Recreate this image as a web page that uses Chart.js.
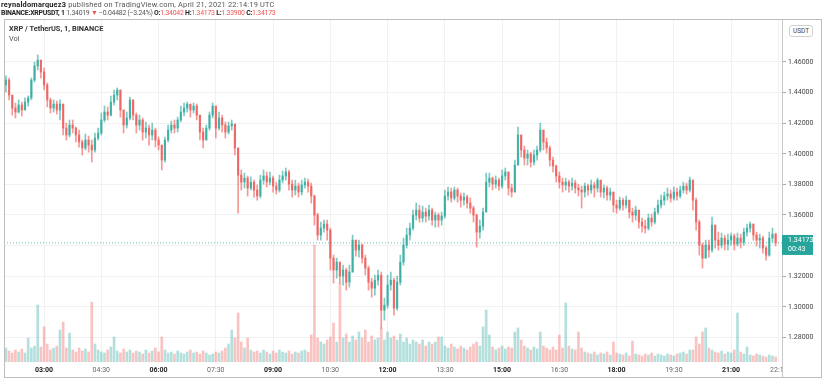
<!DOCTYPE html>
<html><head><meta charset="utf-8">
<script src="https://cdn.jsdelivr.net/npm/chart.js@4.4.1/dist/chart.umd.min.js"></script>
<style>
html,body{margin:0;padding:0;background:#fff;}
#wrap{position:relative;width:823px;height:383px;overflow:hidden;font-family:Roboto,"Open Sans",sans-serif;}
#c{position:absolute;left:0;top:0;}
.hdr{position:absolute;left:1px;white-space:nowrap;font-size:7.4px;line-height:9px;color:#555;}
.hdr b{color:#222;}
.red{color:#ef5350;}
.leg{position:absolute;left:9px;white-space:nowrap;font-size:7.4px;line-height:9px;color:#333;}
#usdt{position:absolute;left:789px;top:25px;width:22px;height:10px;border:1px solid #d0d0d0;border-radius:3px;font-size:6.5px;line-height:10px;text-align:center;color:#444;background:#fff;}
</style></head>
<body><div id="wrap">
<canvas id="c" width="823" height="383"></canvas>
<div class="hdr" style="top:0px;letter-spacing:0.2px;"><b>reynaldomarquez3</b> published on TradingView.com, April 21, 2021 22:14:19 UTC</div>
<div class="hdr" style="top:9px;font-size:6.9px;letter-spacing:-0.25px;"><b>BINANCE:XRPUSDT, 1</b> 1.34019 <span class="red">▼</span> −0.04482 (−3.24%) <b>O:</b><span class="red">1.34042</span> <b>H:</b><span class="red">1.34173</span> <b>L:</b><span class="red">1.33900</span> <b>C:</b><span class="red">1.34173</span></div>
<div class="leg" style="top:24px;font-weight:bold;">XRP / TetherUS, 1, BINANCE</div>
<div class="leg" style="top:34px;color:#555;">Vol</div>
<div id="usdt">USDT</div>
</div>
<script>
// 5-minute aggregated candles, first candle at 02:00 (minute 120 of the day)
const startMinute = 120;
const stepMinutes = 5;

const open = [1.4450,1.4482,1.4384,1.4299,1.4273,1.4319,1.4286,1.4338,1.4365,1.4482,
1.4574,1.4613,1.4535,1.4450,1.4352,1.4299,1.4325,1.4286,1.4325,1.4168,
1.4123,1.4188,1.4168,1.4123,1.4077,1.4038,1.4090,1.4057,1.4025,1.4103,
1.4136,1.4221,1.4273,1.4253,1.4338,1.4384,1.4417,1.4286,1.4188,1.4234,
1.4352,1.4253,1.4188,1.4221,1.4142,1.4168,1.4123,1.4155,1.4090,1.4057,
1.3959,1.4090,1.4155,1.4188,1.4168,1.4221,1.4273,1.4299,1.4325,1.4286,
1.4312,1.4253,1.4142,1.4090,1.4168,1.4253,1.4312,1.4168,1.4234,1.4188,
1.4142,1.4182,1.4195,1.4038,1.3861,1.3815,1.3841,1.3776,1.3815,1.3763,
1.3724,1.3828,1.3855,1.3815,1.3841,1.3789,1.3763,1.3828,1.3855,1.3881,
1.3802,1.3763,1.3789,1.3750,1.3796,1.3815,1.3789,1.3724,1.3599,1.3469,
1.3514,1.3541,1.3501,1.3318,1.3240,1.3292,1.3201,1.3240,1.3161,1.3227,
1.3436,1.3371,1.3403,1.3318,1.3253,1.3161,1.3122,1.3174,1.3207,1.2978,
1.3011,1.3142,1.3174,1.2991,1.3161,1.3292,1.3403,1.3469,1.3514,1.3599,
1.3632,1.3580,1.3619,1.3593,1.3632,1.3567,1.3599,1.3567,1.3593,1.3724,
1.3750,1.3711,1.3763,1.3724,1.3697,1.3717,1.3678,1.3645,1.3599,1.3488,
1.3527,1.3619,1.3815,1.3841,1.3802,1.3828,1.3789,1.3855,1.3881,1.3776,
1.3750,1.3926,1.4123,1.4025,1.3972,1.3998,1.3946,1.3992,1.4025,1.4155,
1.4077,1.4038,1.3959,1.3920,1.3855,1.3815,1.3796,1.3815,1.3789,1.3809,
1.3776,1.3763,1.3750,1.3789,1.3763,1.3796,1.3776,1.3828,1.3750,1.3776,
1.3730,1.3750,1.3665,1.3645,1.3697,1.3665,1.3697,1.3619,1.3599,1.3632,
1.3554,1.3527,1.3514,1.3580,1.3554,1.3619,1.3665,1.3697,1.3724,1.3737,
1.3711,1.3750,1.3724,1.3763,1.3789,1.3763,1.3828,1.3697,1.3554,1.3403,
1.3318,1.3403,1.3371,1.3534,1.3436,1.3403,1.3449,1.3410,1.3436,1.3462,
1.3410,1.3449,1.3423,1.3488,1.3514,1.3541,1.3469,1.3436,1.3449,1.3384,
1.3338,1.3449,1.3475];

const high = [1.4509,1.4495,1.4384,1.4332,1.4352,1.4338,1.4365,1.4378,1.4495,1.4600,
1.4646,1.4613,1.4561,1.4463,1.4365,1.4352,1.4345,1.4352,1.4325,1.4201,
1.4221,1.4221,1.4175,1.4155,1.4090,1.4129,1.4116,1.4090,1.4136,1.4168,
1.4267,1.4312,1.4306,1.4378,1.4417,1.4430,1.4417,1.4286,1.4273,1.4371,
1.4352,1.4267,1.4253,1.4234,1.4208,1.4188,1.4201,1.4168,1.4110,1.4057,
1.4110,1.4188,1.4214,1.4221,1.4240,1.4312,1.4332,1.4338,1.4325,1.4332,
1.4325,1.4253,1.4168,1.4188,1.4273,1.4332,1.4312,1.4273,1.4253,1.4208,
1.4208,1.4221,1.4195,1.4038,1.3894,1.3874,1.3855,1.3848,1.3828,1.3796,
1.3861,1.3894,1.3881,1.3881,1.3855,1.3815,1.3861,1.3887,1.3907,1.3894,
1.3828,1.3828,1.3809,1.3828,1.3841,1.3835,1.3809,1.3730,1.3612,1.3554,
1.3567,1.3567,1.3514,1.3338,1.3318,1.3292,1.3272,1.3253,1.3272,1.3469,
1.3436,1.3436,1.3410,1.3338,1.3266,1.3187,1.3207,1.3240,1.3227,1.3057,
1.3207,1.3227,1.3187,1.3201,1.3338,1.3449,1.3514,1.3547,1.3632,1.3678,
1.3665,1.3658,1.3645,1.3665,1.3645,1.3619,1.3612,1.3619,1.3763,1.3783,
1.3776,1.3783,1.3776,1.3743,1.3743,1.3730,1.3711,1.3658,1.3606,1.3567,
1.3645,1.3874,1.3874,1.3848,1.3855,1.3841,1.3894,1.3907,1.3881,1.3802,
1.3959,1.4175,1.4123,1.4051,1.4025,1.4011,1.4025,1.4051,1.4201,1.4155,
1.4103,1.4051,1.3979,1.3926,1.3881,1.3841,1.3841,1.3828,1.3841,1.3828,
1.3802,1.3789,1.3809,1.3802,1.3828,1.3815,1.3841,1.3828,1.3796,1.3789,
1.3776,1.3750,1.3697,1.3717,1.3711,1.3724,1.3697,1.3645,1.3658,1.3632,
1.3580,1.3567,1.3606,1.3606,1.3645,1.3697,1.3730,1.3750,1.3776,1.3763,
1.3783,1.3776,1.3789,1.3815,1.3809,1.3848,1.3828,1.3711,1.3567,1.3416,
1.3436,1.3436,1.3586,1.3534,1.3488,1.3482,1.3469,1.3475,1.3482,1.3475,
1.3482,1.3475,1.3514,1.3541,1.3554,1.3541,1.3488,1.3475,1.3462,1.3397,
1.3488,1.3514,1.3482];

const low = [1.4404,1.4352,1.4253,1.4234,1.4267,1.4247,1.4286,1.4312,1.4352,1.4469,
1.4548,1.4495,1.4417,1.4306,1.4267,1.4273,1.4260,1.4221,1.4123,1.4090,
1.4110,1.4136,1.4077,1.4044,1.3992,1.4025,1.4011,1.3946,1.4011,1.4090,
1.4123,1.4208,1.4221,1.4247,1.4319,1.4352,1.4240,1.4136,1.4168,1.4221,
1.4221,1.4136,1.4155,1.4090,1.4103,1.4057,1.4090,1.4044,1.4025,1.3894,
1.3946,1.4077,1.4136,1.4136,1.4142,1.4208,1.4247,1.4273,1.4240,1.4267,
1.4221,1.4090,1.4038,1.4090,1.4155,1.4234,1.4103,1.4155,1.4142,1.4103,
1.4129,1.4155,1.3992,1.3612,1.3763,1.3776,1.3724,1.3763,1.3717,1.3697,
1.3711,1.3802,1.3783,1.3796,1.3750,1.3737,1.3750,1.3809,1.3828,1.3763,
1.3717,1.3730,1.3717,1.3730,1.3776,1.3750,1.3678,1.3534,1.3436,1.3436,
1.3488,1.3436,1.3240,1.3155,1.3187,1.3155,1.3142,1.3109,1.3128,1.3227,
1.3331,1.3325,1.3286,1.3207,1.3109,1.3063,1.3076,1.3142,1.2860,1.2913,
1.2991,1.3109,1.2945,1.2978,1.3142,1.3272,1.3384,1.3436,1.3501,1.3567,
1.3554,1.3554,1.3554,1.3567,1.3534,1.3521,1.3521,1.3534,1.3580,1.3697,
1.3684,1.3697,1.3684,1.3652,1.3665,1.3645,1.3612,1.3554,1.3390,1.3449,
1.3501,1.3619,1.3783,1.3763,1.3776,1.3763,1.3776,1.3828,1.3730,1.3717,
1.3750,1.3926,1.3979,1.3926,1.3926,1.3913,1.3926,1.3959,1.4011,1.4025,
1.4005,1.3920,1.3881,1.3815,1.3776,1.3750,1.3763,1.3750,1.3763,1.3743,
1.3724,1.3645,1.3717,1.3730,1.3743,1.3717,1.3750,1.3717,1.3711,1.3697,
1.3697,1.3619,1.3612,1.3632,1.3632,1.3645,1.3580,1.3554,1.3567,1.3514,
1.3488,1.3482,1.3501,1.3527,1.3541,1.3606,1.3645,1.3665,1.3697,1.3684,
1.3697,1.3697,1.3711,1.3743,1.3737,1.3750,1.3632,1.3501,1.3338,1.3253,
1.3318,1.3325,1.3357,1.3384,1.3371,1.3384,1.3371,1.3371,1.3403,1.3371,
1.3397,1.3384,1.3403,1.3462,1.3488,1.3436,1.3397,1.3384,1.3351,1.3305,
1.3331,1.3423,1.3397];

const close = [1.4482,1.4384,1.4299,1.4273,1.4319,1.4286,1.4338,1.4365,1.4482,1.4574,
1.4613,1.4535,1.4450,1.4352,1.4299,1.4325,1.4286,1.4325,1.4168,1.4123,
1.4188,1.4168,1.4123,1.4077,1.4038,1.4090,1.4057,1.4025,1.4103,1.4136,
1.4221,1.4273,1.4253,1.4338,1.4384,1.4417,1.4286,1.4188,1.4234,1.4352,
1.4253,1.4188,1.4221,1.4142,1.4168,1.4123,1.4155,1.4090,1.4057,1.3959,
1.4090,1.4155,1.4188,1.4168,1.4221,1.4273,1.4299,1.4325,1.4286,1.4312,
1.4253,1.4142,1.4090,1.4168,1.4253,1.4312,1.4168,1.4234,1.4188,1.4142,
1.4182,1.4195,1.4038,1.3861,1.3815,1.3841,1.3776,1.3815,1.3763,1.3724,
1.3828,1.3855,1.3815,1.3841,1.3789,1.3763,1.3828,1.3855,1.3881,1.3802,
1.3763,1.3789,1.3750,1.3796,1.3815,1.3789,1.3724,1.3599,1.3469,1.3514,
1.3541,1.3501,1.3318,1.3240,1.3292,1.3201,1.3240,1.3161,1.3227,1.3436,
1.3371,1.3403,1.3318,1.3253,1.3161,1.3122,1.3174,1.3207,1.2978,1.3011,
1.3142,1.3174,1.2991,1.3161,1.3292,1.3403,1.3469,1.3514,1.3599,1.3632,
1.3580,1.3619,1.3593,1.3632,1.3567,1.3599,1.3567,1.3593,1.3724,1.3750,
1.3711,1.3763,1.3724,1.3697,1.3717,1.3678,1.3645,1.3599,1.3488,1.3527,
1.3619,1.3815,1.3841,1.3802,1.3828,1.3789,1.3855,1.3881,1.3776,1.3750,
1.3926,1.4123,1.4025,1.3972,1.3998,1.3946,1.3992,1.4025,1.4155,1.4077,
1.4038,1.3959,1.3920,1.3855,1.3815,1.3796,1.3815,1.3789,1.3809,1.3776,
1.3763,1.3750,1.3789,1.3763,1.3796,1.3776,1.3828,1.3750,1.3776,1.3730,
1.3750,1.3665,1.3645,1.3697,1.3665,1.3697,1.3619,1.3599,1.3632,1.3554,
1.3527,1.3514,1.3580,1.3554,1.3619,1.3665,1.3697,1.3724,1.3737,1.3711,
1.3750,1.3724,1.3763,1.3789,1.3763,1.3828,1.3697,1.3554,1.3403,1.3318,
1.3403,1.3371,1.3534,1.3436,1.3403,1.3449,1.3410,1.3436,1.3462,1.3410,
1.3449,1.3423,1.3488,1.3514,1.3541,1.3469,1.3436,1.3449,1.3384,1.3338,
1.3449,1.3475,1.34173];

const volume = [140,110,90,120,100,130,90,240,140,160,
570,150,350,180,120,140,160,320,400,140,
290,120,100,140,110,130,100,600,180,120,
100,90,120,150,250,110,90,130,100,120,
90,110,100,80,120,90,110,140,100,250,
120,90,100,80,110,90,80,100,120,90,
100,80,110,90,70,80,100,90,110,140,
180,320,240,490,200,140,240,120,100,110,
90,120,100,80,110,90,120,100,90,110,
80,100,90,110,120,100,270,1170,240,200,
180,220,250,390,200,790,240,280,200,260,
220,300,240,320,200,260,220,240,340,220,
300,240,260,220,280,200,240,180,220,200,
180,220,160,200,180,200,250,250,160,140,
180,150,130,160,140,120,150,180,200,160,
350,520,270,150,120,140,160,130,150,140,
300,340,220,160,140,120,150,130,300,160,
140,120,150,120,270,140,590,160,130,120,
300,140,100,90,80,100,70,90,80,100,
70,200,90,80,70,90,60,210,80,70,
60,80,70,90,60,80,70,60,80,70,
60,80,90,100,80,120,120,250,180,300,
340,140,120,100,90,110,80,100,90,120,
490,100,80,150,70,60,80,70,60,50,
70,60,50];

const lastPrice = 1.34173;
const lastPriceCountdown = '00:43';
const priceTicks = [1.28,1.30,1.32,1.34,1.36,1.38,1.40,1.42,1.44,1.46];
const timeTickMinutes = [180,270,360,450,540,630,720,810,900,990,1080,1170,1260,1335];
const timeTickLabels = ['03:00','04:30','06:00','07:30','09:00','10:30','12:00','13:30','15:00','16:30','18:00','19:30','21:00','22:15'];

const UP = 'rgba(38,166,154,0.72)', DOWN = 'rgba(239,83,80,0.72)';
const UPW = 'rgba(38,166,154,0.6)', DOWNW = 'rgba(239,83,80,0.6)';
const UPV = 'rgba(38,166,154,0.35)', DOWNV = 'rgba(239,83,80,0.35)';
const minutes = close.map((_, i) => startMinute + i * stepMinutes);
const isUp = i => close[i] >= open[i];

const framePlugin = {
  id: 'frame',
  afterDraw(chart) {
    const ctx = chart.ctx, ys = chart.scales.y, ca = chart.chartArea;
    ctx.save();
    ctx.fillStyle = '#fff';
    ctx.fillRect(ca.right + 1, ca.bottom + 1, 823 - ca.right, 14);
    ctx.strokeStyle = '#c8c8c8'; ctx.lineWidth = 1;
    ctx.beginPath(); ctx.moveTo(ca.right + 0.5, ca.top); ctx.lineTo(ca.right + 0.5, 377); ctx.stroke();
    ctx.strokeStyle = '#bdbdbd';
    ctx.strokeRect(4.5, 19.5, 817, 358);
    const py = ys.getPixelForValue(lastPrice);
    ctx.fillStyle = '#26a69a';
    ctx.fillRect(ca.right, py - 8, 31, 20);
    ctx.fillStyle = '#fff';
    ctx.font = '7px Roboto';
    ctx.textBaseline = 'middle'; ctx.textAlign = 'left';
    ctx.fillText(lastPrice.toFixed(5), ca.right + 6, py - 2.5);
    ctx.fillText(lastPriceCountdown, ca.right + 6, py + 6.5);
    ctx.restore();
  }
};

new Chart(document.getElementById('c'), {
  type: 'bar',
  data: {
    datasets: [
      { type: 'line', data: [{x: 117, y: lastPrice}, {x: 1340, y: lastPrice}], borderColor: 'rgba(38,166,154,0.7)',
        borderWidth: 1, borderDash: [1, 2], pointRadius: 0, yAxisID: 'y', order: 4 },
      { data: minutes.map((m, i) => ({x: m, y: [open[i], close[i]]})), backgroundColor: c => isUp(c.dataIndex) ? UP : DOWN,
        barThickness: 1.6, minBarLength: 1, grouped: false, yAxisID: 'y', order: 1 },
      { data: minutes.map((m, i) => ({x: m, y: [low[i], high[i]]})), backgroundColor: c => isUp(c.dataIndex) ? UPW : DOWNW,
        barThickness: 1, grouped: false, yAxisID: 'y', order: 2 },
      { data: minutes.map((m, i) => ({x: m, y: volume[i]})), backgroundColor: c => isUp(c.dataIndex) ? UPV : DOWNV,
        barThickness: 2, grouped: false, yAxisID: 'yVol', order: 3 }
    ]
  },
  options: {
    responsive: false, animation: false, events: [],
    layout: { padding: { left: 4, top: 20, right: 0, bottom: 6 } },
    plugins: { legend: { display: false }, tooltip: { enabled: false } },
    scales: {
      x: { type: 'linear', min: 117, max: 1340, offset: false, position: 'bottom',
        afterBuildTicks: s => { s.ticks = timeTickMinutes.map(v => ({value: v})); },
        afterFit: s => { s.height = 15; },
        grid: { offset: false, color: '#f1f1f1', drawTicks: false },
        border: { display: false },
        ticks: { padding: 4, maxRotation: 0, autoSkip: false,
          color: c => (c.tick && c.tick.value % 180 === 0) ? '#222' : '#666',
          font: c => ({ family: 'Roboto', size: 7, weight: (c.tick && c.tick.value % 180 === 0) ? 'bold' : 'normal' }),
          callback: (v, i) => timeTickLabels[i] } },
      y: { type: 'linear', position: 'right', min: 1.26392, max: 1.48745,
        afterBuildTicks: s => { s.ticks = priceTicks.map(v => ({value: v})); },
        afterFit: s => { s.width = 41; },
        grid: { color: '#f1f1f1', tickColor: '#aaa', tickLength: 4 },
        border: { display: false },
        ticks: { padding: 2, color: '#444', font: { family: 'Roboto', size: 7 }, callback: v => v.toFixed(5) } },
      yVol: { display: false, min: 0, max: 3420 }
    }
  },
  plugins: [framePlugin]
});
</script>
</body></html>
